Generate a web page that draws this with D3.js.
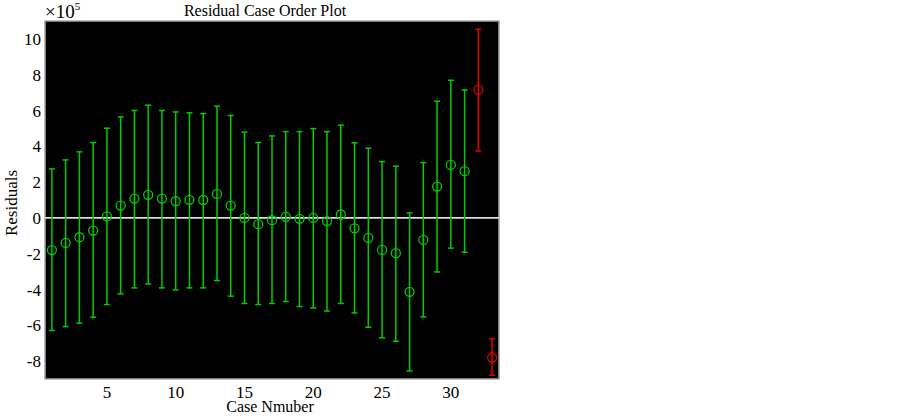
<!DOCTYPE html>
<html lang="en">
<head>
	<meta charset="UTF-8">
	<title>Residual Case Order Plot</title>
	<script src="https://d3js.org/d3.v7.min.js"></script>
	<style>
		html, body { margin: 0; padding: 0; background: #fff; }
		body { width: 900px; height: 416px; overflow: hidden; }
		text { font-family: 'Liberation Serif', 'Times New Roman', serif; fill: #000; }
	</style>
</head>
<body>
	<div id="chart"></div>
	<script>
		// residuals (x 1e5) and their confidence intervals, case 1..33
		var cases = d3.range(1, 34);
		var residuals = [-1.80, -1.40, -1.08, -0.71, 0.08, 0.69, 1.08, 1.29, 1.08, 0.93,
		                 1.01, 1.00, 1.34, 0.69, 0.00, -0.35, -0.13, 0.06, -0.05, 0.00,
		                 -0.18, 0.19, -0.58, -1.12, -1.79, -1.97, -4.13, -1.23, 1.75, 2.96,
		                 2.61, 7.17, -7.80];
		var upper = [2.74, 3.24, 3.69, 4.21, 5.01, 5.64, 6.00, 6.30, 6.00, 5.92,
		             5.87, 5.83, 6.24, 5.72, 4.79, 4.21, 4.58, 4.82, 4.82, 4.99,
		             4.82, 5.18, 4.19, 3.89, 3.15, 2.89, 0.28, 3.09, 6.52, 7.69,
		             7.15, 10.54, -6.76];
		var lower = [-6.29, -6.07, -5.88, -5.55, -4.84, -4.24, -3.91, -3.69, -3.91, -4.02,
		             -3.91, -3.91, -3.50, -4.37, -4.78, -4.84, -4.78, -4.67, -4.95, -5.03,
		             -5.20, -4.78, -5.31, -6.11, -6.70, -6.89, -8.55, -5.53, -3.02, -1.69,
		             -1.92, 3.74, -8.79];
		var xTicks = [5, 10, 15, 20, 25, 30];
		var yTicks = [-8, -6, -4, -2, 0, 2, 4, 6, 8, 10];

		var width = 900, height = 416;
		var plot = {left: 45, right: 499, top: 21, bottom: 379};

		var svg = d3.select('#chart').append('svg')
			.attr('width', width)
			.attr('height', height);

		var x = d3.scaleLinear().domain([0.5, 33.5]).range([plot.left, plot.right]);
		var y = d3.scaleLinear().domain([-9, 11]).range([plot.bottom, plot.top]);

		svg.append('rect')
			.attr('x', plot.left)
			.attr('y', plot.top)
			.attr('width', plot.right - plot.left)
			.attr('height', plot.bottom - plot.top)
			.attr('fill', '#000')
			.attr('stroke', '#a8a8a8')
			.attr('stroke-width', 1.5);

		// zero line
		svg.append('line')
			.attr('x1', plot.left)
			.attr('x2', plot.right)
			.attr('y1', y(0))
			.attr('y2', y(0))
			.attr('stroke', '#dcdcdc')
			.attr('stroke-width', 1.8);

		var data = cases.map(function(c, i) {
			var lo = lower[i], hi = upper[i];
			return {c: c, r: residuals[i], lo: lo, hi: hi, out: lo > 0 || hi < 0};
		});

		var colour = function(d) { return d.out ? '#e00000' : '#00cc00'; };

		var g = svg.append('g').selectAll('g')
			.data(data)
			.enter().append('g');

		g.append('line')
			.attr('x1', function(d) { return x(d.c); })
			.attr('x2', function(d) { return x(d.c); })
			.attr('y1', function(d) { return y(d.lo); })
			.attr('y2', function(d) { return y(d.hi); })
			.attr('stroke', colour)
			.attr('stroke-width', 1.5);

		['lo', 'hi'].forEach(function(k) {
			g.append('line')
				.attr('x1', function(d) { return x(d.c) - 3; })
				.attr('x2', function(d) { return x(d.c) + 3; })
				.attr('y1', function(d) { return y(d[k]); })
				.attr('y2', function(d) { return y(d[k]); })
				.attr('stroke', colour)
				.attr('stroke-width', 1.5);
		});

		g.append('circle')
			.attr('cx', function(d) { return x(d.c); })
			.attr('cy', function(d) { return y(d.r); })
			.attr('r', 4.5)
			.attr('fill', 'none')
			.attr('stroke', colour)
			.attr('stroke-width', 1.3);

		// tick labels
		svg.append('g').selectAll('text')
			.data(xTicks)
			.enter().append('text')
			.attr('x', function(d) { return x(d); })
			.attr('y', 398)
			.attr('text-anchor', 'middle')
			.attr('font-size', 17)
			.text(function(d) { return d; });

		svg.append('g').selectAll('text')
			.data(yTicks)
			.enter().append('text')
			.attr('x', 41)
			.attr('y', function(d) { return y(d) + 6; })
			.attr('text-anchor', 'end')
			.attr('font-size', 17)
			.text(function(d) { return d; });

		svg.append('text')
			.attr('x', 265)
			.attr('y', 16)
			.attr('text-anchor', 'middle')
			.attr('font-size', 16)
			.text('Residual Case Order Plot');

		svg.append('text')
			.attr('x', 270)
			.attr('y', 412)
			.attr('text-anchor', 'middle')
			.attr('font-size', 16)
			.text('Case Nmuber');

		svg.append('text')
			.attr('transform', 'translate(17,203) rotate(-90)')
			.attr('text-anchor', 'middle')
			.attr('font-size', 17)
			.text('Residuals');

		var exp = svg.append('text')
			.attr('x', 45)
			.attr('y', 18)
			.attr('font-size', 19);
		exp.append('tspan').text('\u00d710');
		exp.append('tspan').attr('dy', -8).attr('font-size', 11).text('5');
	</script>
</body>
</html>
